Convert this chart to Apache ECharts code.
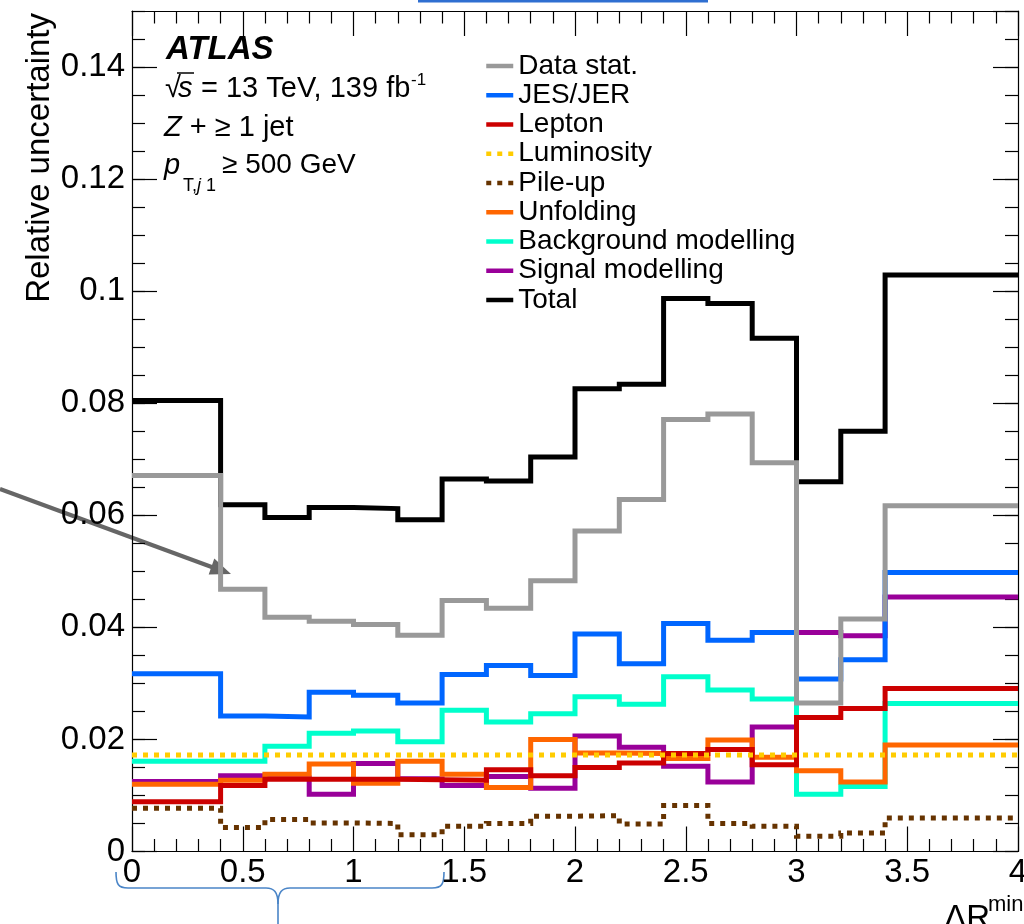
<!DOCTYPE html>
<html><head><meta charset="utf-8">
<script src="https://cdn.jsdelivr.net/npm/echarts@6/dist/echarts.min.js"></script>
<style>html,body{margin:0;padding:0;background:#fff}#c{width:1024px;height:924px}</style>
</head><body><div id="c"></div>
<script>
// ---- data ----
const binEdges = [0, 0.4, 0.6, 0.8, 1.0, 1.2, 1.4, 1.6, 1.8, 2.0, 2.2, 2.4, 2.6, 2.8, 3.0, 3.2, 3.4, 4.0];
const dataStat   = [0.0671, 0.0468, 0.0418, 0.0411, 0.0405, 0.0386, 0.0448, 0.0434, 0.0483, 0.0572, 0.0628, 0.0771, 0.0781, 0.0694, 0.0265, 0.0415, 0.0617];
const jesJer     = [0.0317, 0.0242, 0.0240, 0.0284, 0.0279, 0.0265, 0.0316, 0.0332, 0.0314, 0.0388, 0.0335, 0.0407, 0.0377, 0.0391, 0.0308, 0.0342, 0.0498];
const lepton     = [0.0089, 0.0118, 0.0129, 0.0129, 0.0129, 0.0128, 0.0127, 0.0146, 0.0135, 0.0150, 0.0158, 0.0175, 0.0182, 0.0155, 0.0239, 0.0255, 0.0291];
const luminosity = [0.0172, 0.0172, 0.0172, 0.0172, 0.0172, 0.0172, 0.0172, 0.0172, 0.0172, 0.0172, 0.0172, 0.0172, 0.0172, 0.0172, 0.0172, 0.0172, 0.0172];
const pileUp     = [0.0077, 0.0043, 0.0057, 0.0051, 0.0050, 0.0030, 0.0045, 0.0050, 0.0063, 0.0064, 0.0049, 0.0082, 0.0050, 0.0045, 0.0027, 0.0033, 0.0060];
const unfolding  = [0.0120, 0.0127, 0.0138, 0.0156, 0.0122, 0.0161, 0.0138, 0.0114, 0.0200, 0.0176, 0.0175, 0.0166, 0.0199, 0.0168, 0.0144, 0.0124, 0.0190];
const bkgModel   = [0.0161, 0.0161, 0.0188, 0.0211, 0.0215, 0.0196, 0.0252, 0.0231, 0.0246, 0.0276, 0.0263, 0.0312, 0.0288, 0.0272, 0.0102, 0.0116, 0.0264];
const sigModel   = [0.0125, 0.0135, 0.0131, 0.0102, 0.0157, 0.0130, 0.0118, 0.0134, 0.0113, 0.0206, 0.0186, 0.0152, 0.0124, 0.0222, 0.0391, 0.0385, 0.0454];
const total      = [0.0805, 0.0619, 0.0596, 0.0614, 0.0612, 0.0592, 0.0665, 0.0661, 0.0704, 0.0826, 0.0834, 0.0987, 0.0978, 0.0916, 0.0660, 0.0750, 0.1029];
const legendNames = ['Data stat.', 'JES/JER', 'Lepton', 'Luminosity', 'Pile-up', 'Unfolding', 'Background modelling', 'Signal modelling', 'Total'];

const FONT = "'Liberation Sans', Arial, Helvetica, sans-serif";

function steps(vals) {
  const pts = vals.map((v, i) => [binEdges[i], v]);
  pts.push([binEdges[binEdges.length - 1], vals[vals.length - 1]]);
  return pts;
}
function histSeries(name, vals, color, dotted) {
  return {
    name: name, type: 'line', step: 'end', xAxisIndex: 0, yAxisIndex: 0,
    data: steps(vals), symbol: 'none', showSymbol: false, silent: true,
    itemStyle: { color: color },
    lineStyle: { color: color, width: 5, type: dotted ? [5, 6] : 'solid', cap: 'butt', join: 'miter' }
  };
}

const axisCommon = {
  type: 'value', splitLine: { show: false },
  axisLine: { show: true, onZero: false, lineStyle: { color: '#000', width: 1.2 } },
  axisTick: { show: true, inside: true, lineStyle: { color: '#000', width: 1.2 } }
};

const chart = echarts.init(document.getElementById('c'), null, { renderer: 'canvas' });
const braceStyle = { stroke: '#4a85c7', lineWidth: 1.6, fill: null };
const option = {
  animation: false,
  backgroundColor: '#fff',
  textStyle: { fontFamily: FONT },
  grid: { left: 132, top: 11, width: 886, height: 840.5, outerBoundsMode: 'none' },
  xAxis: [
    Object.assign({}, axisCommon, {
      position: 'bottom', min: 0, max: 4, interval: 0.5,
      axisTick: { show: true, inside: true, length: 25, lineStyle: { color: '#000', width: 1.2 } },
      minorTick: { show: true, splitNumber: 5, length: 12.5, lineStyle: { color: '#000', width: 1.2 } },
      axisLabel: { show: true, margin: 5, fontSize: 33, color: '#000', fontFamily: FONT }
    }),
    Object.assign({}, axisCommon, {
      position: 'top', min: 0, max: 4, interval: 0.5,
      axisTick: { show: true, inside: true, length: 25, lineStyle: { color: '#000', width: 1.2 } },
      minorTick: { show: true, splitNumber: 5, length: 12.5, lineStyle: { color: '#000', width: 1.2 } },
      axisLabel: { show: false }
    })
  ],
  yAxis: [
    Object.assign({}, axisCommon, {
      position: 'left', min: 0, max: 0.15, interval: 0.02,
      axisTick: { show: true, inside: true, length: 25, lineStyle: { color: '#000', width: 1.2 } },
      axisLabel: { show: true, margin: 7, fontSize: 33, color: '#000', fontFamily: FONT, showMaxLabel: false }
    }),
    Object.assign({}, axisCommon, {
      position: 'left', min: 0, max: 0.15, interval: 0.005,
      axisLine: { show: false, onZero: false },
      axisTick: { show: true, inside: true, length: 13, lineStyle: { color: '#000', width: 1.2 } },
      axisLabel: { show: false }
    }),
    Object.assign({}, axisCommon, {
      position: 'right', min: 0, max: 0.15, interval: 0.02,
      axisTick: { show: true, inside: true, length: 25, lineStyle: { color: '#000', width: 1.2 } },
      axisLabel: { show: false }
    }),
    Object.assign({}, axisCommon, {
      position: 'right', min: 0, max: 0.15, interval: 0.005,
      axisLine: { show: false, onZero: false },
      axisTick: { show: true, inside: true, length: 13, lineStyle: { color: '#000', width: 1.2 } },
      axisLabel: { show: false }
    })
  ],
  legend: {
    data: legendNames, orient: 'vertical', left: 484, top: 51.5, padding: 0,
    itemWidth: 27, itemHeight: 14, itemGap: 0.25, selectedMode: false,
    itemStyle: { opacity: 0 },
    lineStyle: { width: 4.5 },
    textStyle: { fontSize: 28, lineHeight: 29, color: '#000', fontFamily: FONT }
  },
  series: [
    histSeries('Total', total, '#000000', false),
    histSeries('Signal modelling', sigModel, '#990099', false),
    histSeries('Background modelling', bkgModel, '#00ffcc', false),
    histSeries('Unfolding', unfolding, '#ff6600', false),
    histSeries('Pile-up', pileUp, '#663300', true),
    histSeries('Lepton', lepton, '#cc0000', false),
    histSeries('JES/JER', jesJer, '#0066ff', false),
    histSeries('Luminosity', luminosity, '#ffcc00', true),
    histSeries('Data stat.', dataStat, '#999999', false)
  ],
  graphic: [
    // y-axis title
    { type: 'text', x: 39.5, y: 13, rotation: Math.PI / 2, silent: true,
      style: { text: 'Relative uncertainty', fontSize: 33, fontFamily: FONT, fill: '#000', align: 'right', verticalAlign: 'middle' } },
    // x-axis title (partly cut at the bottom edge)
    { type: 'text', x: 990, y: 919, silent: true,
      style: { text: 'ΔR', fontSize: 33, fontFamily: FONT, fill: '#000', align: 'right', verticalAlign: 'middle' } },
    { type: 'text', x: 988, y: 905, silent: true,
      style: { text: 'min', fontSize: 22, fontFamily: FONT, fill: '#000', align: 'left', verticalAlign: 'middle' } },
    // ATLAS label block
    { type: 'text', x: 166, y: 49.5, silent: true,
      style: { text: 'ATLAS', fontSize: 33, fontWeight: 'bold', fontStyle: 'italic', fontFamily: FONT, fill: '#000', align: 'left', verticalAlign: 'middle' } },
    { type: 'text', x: 165, y: 89, silent: true,
      style: { text: '√', fontSize: 29, fontFamily: FONT, fill: '#000', align: 'left', verticalAlign: 'middle' } },
    { type: 'text', x: 178, y: 89, silent: true,
      style: { text: 's', fontSize: 29, fontStyle: 'italic', fontFamily: FONT, fill: '#000', align: 'left', verticalAlign: 'middle' } },
    { type: 'line', silent: true, shape: { x1: 177, y1: 73, x2: 194, y2: 73 }, style: { stroke: '#000', lineWidth: 1.5 } },
    { type: 'text', x: 201, y: 89, silent: true,
      style: { text: '= 13 TeV, 139 fb', fontSize: 29, fontFamily: FONT, fill: '#000', align: 'left', verticalAlign: 'middle' } },
    { type: 'text', x: 411, y: 80, silent: true,
      style: { text: '-1', fontSize: 17, fontFamily: FONT, fill: '#000', align: 'left', verticalAlign: 'middle' } },
    { type: 'text', x: 164, y: 128, silent: true,
      style: { text: '{i|Z} + ≥ 1 jet', fontSize: 29, fontFamily: FONT, fill: '#000', align: 'left', verticalAlign: 'middle',
               rich: { i: { fontSize: 29, fontStyle: 'italic', fontFamily: FONT, fill: '#000' } } } },
    { type: 'text', x: 164, y: 165.5, silent: true,
      style: { text: 'p', fontSize: 29, fontStyle: 'italic', fontFamily: FONT, fill: '#000', align: 'left', verticalAlign: 'middle' } },
    { type: 'text', x: 183, y: 186, silent: true,
      style: { text: 'T,{i|j} 1', fontSize: 18, fontFamily: FONT, fill: '#000', align: 'left', verticalAlign: 'middle',
               rich: { i: { fontSize: 18, fontStyle: 'italic', fontFamily: FONT, fill: '#000' } } } },
    { type: 'text', x: 222, y: 165.5, silent: true,
      style: { text: '≥ 500 GeV', fontSize: 28, fontFamily: FONT, fill: '#000', align: 'left', verticalAlign: 'middle' } },
    // annotations drawn over the figure
    { type: 'rect', silent: true, shape: { x: 418, y: 0, width: 290, height: 2.5 }, style: { fill: '#2f6fd1' } },
    { type: 'bezierCurve', silent: true, shape: { x1: 116, y1: 872, cpx1: 116, cpy1: 884, cpx2: 118, cpy2: 888, x2: 128, y2: 888 }, style: braceStyle },
    { type: 'line', silent: true, shape: { x1: 128, y1: 888, x2: 266, y2: 888 }, style: braceStyle },
    { type: 'bezierCurve', silent: true, shape: { x1: 266, y1: 888, cpx1: 274, cpy1: 888, cpx2: 278, cpy2: 892, x2: 278, y2: 904 }, style: braceStyle },
    { type: 'line', silent: true, shape: { x1: 278, y1: 904, x2: 278, y2: 924 }, style: braceStyle },
    { type: 'bezierCurve', silent: true, shape: { x1: 278, y1: 904, cpx1: 278, cpy1: 892, cpx2: 282, cpy2: 888, x2: 290, y2: 888 }, style: braceStyle },
    { type: 'line', silent: true, shape: { x1: 290, y1: 888, x2: 432, y2: 888 }, style: braceStyle },
    { type: 'bezierCurve', silent: true, shape: { x1: 432, y1: 888, cpx1: 442, cpy1: 888, cpx2: 444, cpy2: 884, x2: 444, y2: 872 }, style: braceStyle },
    { type: 'line', silent: true, shape: { x1: 0, y1: 489, x2: 213, y2: 567.5 }, style: { stroke: '#666666', lineWidth: 4 } },
    { type: 'polygon', silent: true, shape: { points: [[231, 574], [208.7, 574.4], [214.3, 558.6]] }, style: { fill: '#666666' } }
  ]
};
chart.setOption(option);
</script>
</body></html>
